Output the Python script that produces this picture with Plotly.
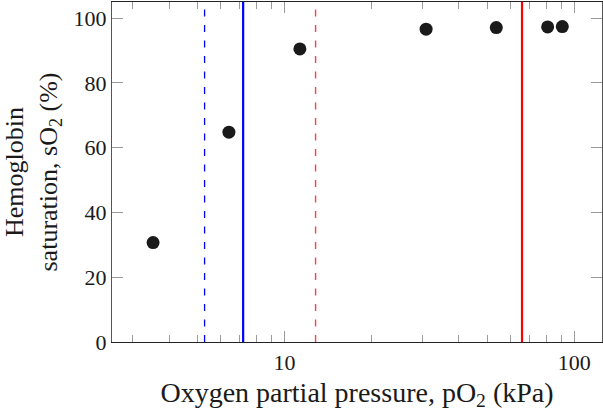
import math
import plotly.graph_objects as go

# Hemoglobin oxygen saturation vs. oxygen partial pressure
po2_kpa = [3.52, 6.43, 11.3, 30.8, 53.8, 80.9, 90.9]
so2_pct = [30.7, 64.8, 90.5, 96.6, 97.1, 97.3, 97.4]

# Reference pressures (kPa) drawn as vertical lines
ref_lines_kpa = [5.3, 7.2, 12.8, 66.0]
ref_colors = ["#0000ff", "#0000ff", "#ff4040", "#ff0000"]
ref_dashes = ["7px,8.5px", "solid", "7px,8.5px", "solid"]
ref_widths = [1.3, 2.2, 1.4, 2.2]

x_range = [2.54, 124.6]
y_range = [0, 105]
x_major = [10, 100]
x_minor = [3, 4, 5, 6, 7, 8, 9, 20, 30, 40, 50, 60, 70, 80, 90]
y_ticks = [0, 20, 40, 60, 80, 100]

FONT = "Liberation Serif"
tick_gray = "#9a9a9a"

fig = go.Figure()

for xv, col, dash, w in zip(ref_lines_kpa, ref_colors, ref_dashes, ref_widths):
    fig.add_trace(go.Scatter(
        x=[xv, xv], y=y_range, mode="lines",
        line=dict(color=col, dash=dash, width=w),
        showlegend=False, hoverinfo="skip",
    ))

fig.add_trace(go.Scatter(
    x=po2_kpa, y=so2_pct, mode="markers",
    marker=dict(size=13, color="#1a1a1a", line=dict(width=0)),
    showlegend=False,
))

fig.update_layout(
    width=603, height=416,
    margin=dict(l=112, r=1, t=2, b=74),
    paper_bgcolor="white", plot_bgcolor="white",
    font=dict(family=FONT, size=21, color="#1a1a1a"),
    xaxis=dict(
        type="log",
        range=[math.log10(x_range[0]), math.log10(x_range[1])],
        tickmode="array", tickvals=x_major, ticktext=[str(v) for v in x_major],
        ticks="inside", ticklen=11, tickwidth=1, tickcolor=tick_gray,
        minor=dict(tickmode="array", tickvals=x_minor, ticks="inside",
                   ticklen=7, tickwidth=1, tickcolor=tick_gray, showgrid=False),
        showline=True, linecolor="#222", linewidth=1.2, mirror="ticks",
        showgrid=False, zeroline=False,
        title=dict(text="Oxygen partial pressure, pO<sub>2</sub> (kPa)",
                   font=dict(size=28), standoff=8),
        tickfont=dict(size=22),
    ),
    yaxis=dict(
        range=y_range,
        tickmode="array", tickvals=y_ticks,
        ticks="inside", ticklen=11, tickwidth=1, tickcolor=tick_gray,
        showline=True, linecolor="#555", linewidth=1, mirror="ticks",
        showgrid=False, zeroline=False,
        title=dict(text="Hemoglobin<br>saturation, sO<sub>2</sub> (%)",
                   font=dict(size=26), standoff=8),
        tickfont=dict(size=22),
    ),
)

fig.write_html("out.html")
